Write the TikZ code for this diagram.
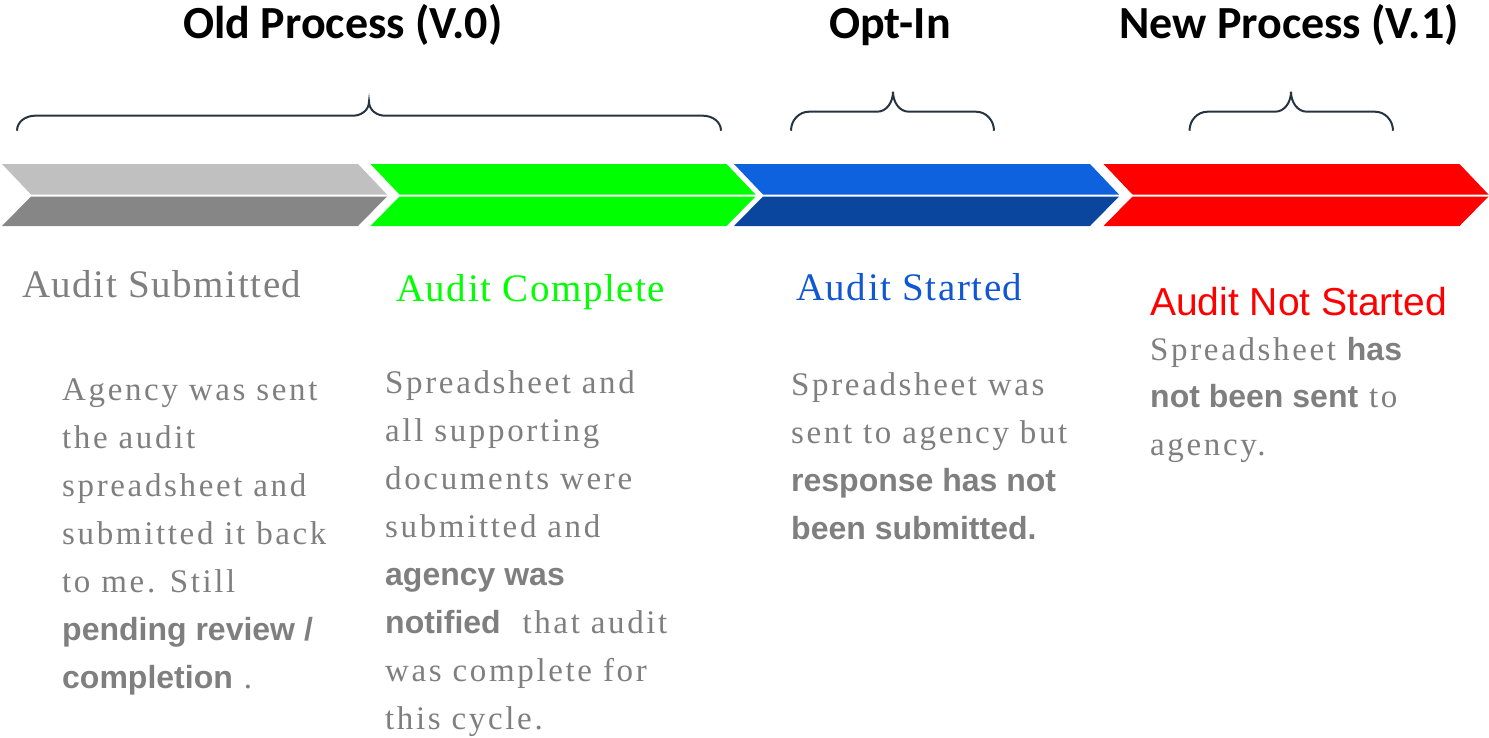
\documentclass[tikz,border=0pt]{standalone}
\usepackage{fontspec}
\setmainfont{Liberation Serif}
\newfontfamily\titlefont{Carlito}
\newfontfamily\headserif{Liberation Serif}[LetterSpace=4]
\newfontfamily\bodyserif{Liberation Serif}[LetterSpace=8]
\newfontfamily\arialf{Liberation Sans}
\definecolor{txtgray}{RGB}{127,127,127}
\definecolor{chgrayA}{RGB}{192,192,192}
\definecolor{chgrayB}{RGB}{134,134,134}
\definecolor{chgreen}{RGB}{0,255,0}
\definecolor{chblueA}{RGB}{15,98,222}
\definecolor{chblueB}{RGB}{11,70,158}
\definecolor{chred}{RGB}{255,0,0}
\definecolor{hblue}{RGB}{17,87,210}
\definecolor{bracecol}{RGB}{38,52,66}
\newcommand\bsans[1]{{\arialf\bfseries\fontsize{32}{48}\selectfont #1}}
\newcommand\chevron[3]{%
  \fill[#2] (#1,164) -- ++(356,0) -- ++(29,30.5) -- ++(-356,0) -- cycle;
  \fill[#3] (#1+29,196.5) -- ++(356,0) -- ++(-29,29.5) -- ++(-356,0) -- cycle;}
\newcommand\mybrace[6]{%
  \draw[bracestyle] (#1,#6) to[out=90,in=180] (#1+18,#5) -- (#2-16,#5)
    to[out=0,in=-90] (#2,#4) to[out=-90,in=180] (#2+16,#5) -- (#3-18,#5)
    to[out=0,in=90] (#3,#6);}
\begin{document}
\begin{tikzpicture}[x=1pt,y=-1pt,
  bracestyle/.style={draw=bracecol,line width=2pt},
  titletext/.style={anchor=base,inner sep=0,font=\titlefont\bfseries\fontsize{46}{52}\selectfont},
  headtext/.style={anchor=base west,inner sep=0,font=\headserif\fontsize{39}{46}\selectfont},
  bodytext/.style={anchor=base west,inner sep=0,text=txtgray}]
\useasboundingbox (0,0) rectangle (1489,737);
% titles
\node[titletext] (t1) at (343,38) {Old Process (V.0)};
\node[titletext] (t2) at (890,38) {Opt-In};
\node[titletext] (t3) at (1289,38) {New Process (V.1)};
% braces
\mybrace{17}{369}{721}{101.7}{115.7}{130.7}
\mybrace{791}{893}{994}{91.7}{111.7}{130.7}
\mybrace{1189.5}{1291}{1393}{91.7}{111.7}{130.7}
% chevrons
\chevron{2}{chgrayA}{chgrayB}
\chevron{370.5}{chgreen}{chgreen}
\chevron{734}{chblueA}{chblueB}
\chevron{1103.5}{chred}{chred}
% headings
\node[headtext,text=txtgray] (h1) at (22,297) {Audit Submitted};
\node[headtext,text=chgreen] (h2) at (396,301) {Audit Complete};
\node[headtext,text=hblue] (h3) at (796,300) {Audit Started};
\node[anchor=base west,inner sep=0,text=chred,font=\arialf\fontsize{39}{46}\selectfont] (h4) at (1150,315) {Audit Not Started};
% bodies
\node[bodytext] (b1) at (62,400) {\parbox[t]{420pt}{\bodyserif\fontsize{33}{48}\selectfont
Agency was sent\\ the audit\\ spreadsheet and\\ submitted it back\\ to me. Still\\ \bsans{pending review /}\\ \bsans{completion} .}};
\node[bodytext] (b2) at (385,393) {\parbox[t]{420pt}{\bodyserif\fontsize{33}{48}\selectfont
Spreadsheet and\\ all supporting\\ documents were\\ submitted and\\ \bsans{agency was}\\ \bsans{notified}\ \ that audit\\ was complete for\\ this cycle.}};
\node[bodytext] (b3) at (791,395) {\parbox[t]{420pt}{\bodyserif\fontsize{33}{48}\selectfont
Spreadsheet was\\ sent to agency but\\ \bsans{response has not}\\ \bsans{been submitted.}}};
\node[bodytext] (b4) at (1150,360) {\parbox[t]{420pt}{\bodyserif\fontsize{33}{47.5}\selectfont
Spreadsheet \bsans{has}\\ \bsans{not been sent} to\\ agency.}};
\end{tikzpicture}
\end{document}
